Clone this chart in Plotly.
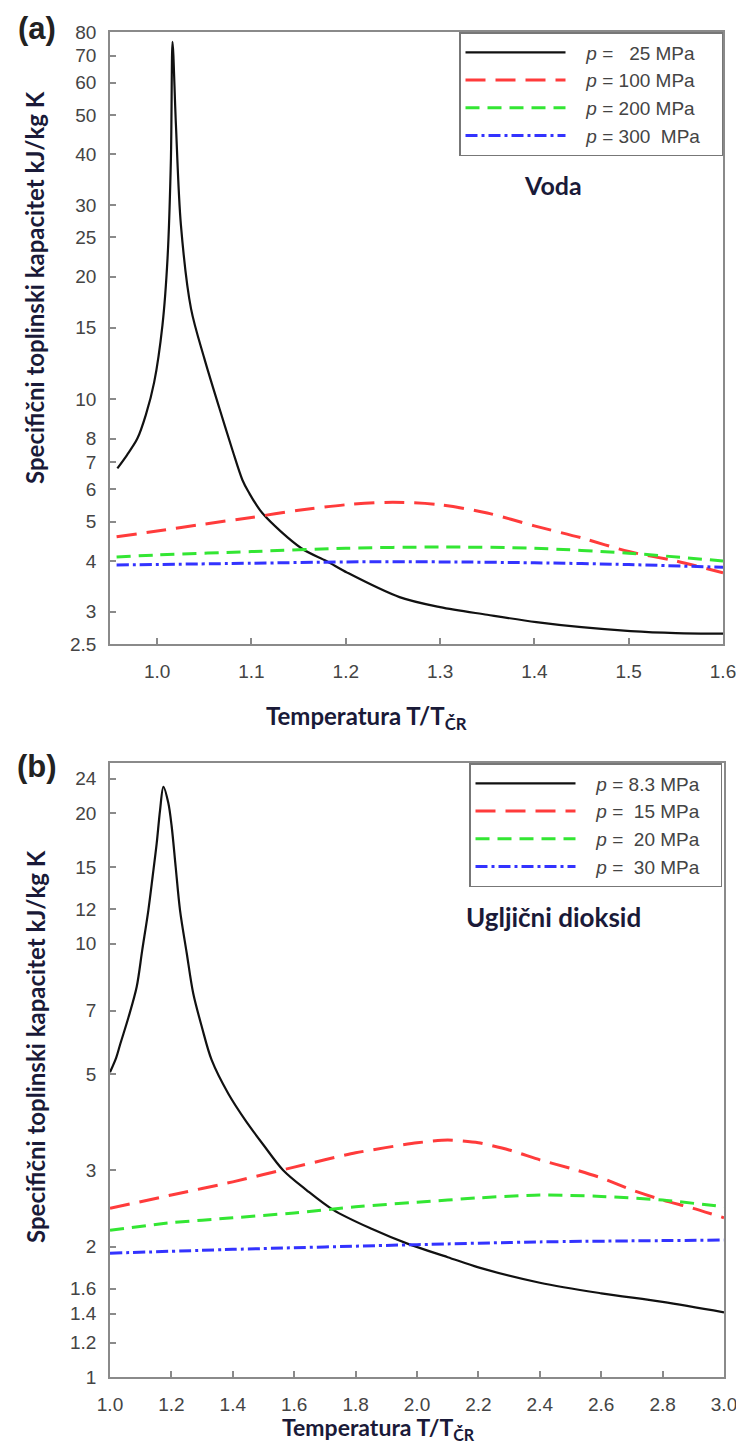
import plotly.graph_objects as go

# ---------------- data: (a) water ----------------
w25_x = [0.9578, 0.968, 0.979, 0.988, 0.9968, 1.0056, 1.011, 1.0146, 1.0163, 1.0199, 1.0252, 1.0359, 1.050, 1.066,
         1.0798, 1.0904, 1.0968, 1.1117, 1.1529, 1.1795, 1.202, 1.257, 1.30, 1.35, 1.402, 1.45, 1.502, 1.55, 1.601]
w25_y = [6.76, 7.29, 8.0, 9.15, 11.0, 15.2, 22.2, 39.1, 75.7, 47.3, 26.8, 16.7, 12.6, 9.5,
         7.5, 6.33, 5.92, 5.24, 4.3, 4.0, 3.74, 3.26, 3.08, 2.95, 2.83, 2.75, 2.69, 2.66, 2.65]
w100_x = [0.957, 1.0, 1.05, 1.1, 1.15, 1.2, 1.25, 1.3, 1.35, 1.4, 1.45, 1.5, 1.55, 1.6]
w100_y = [4.59, 4.74, 4.93, 5.12, 5.33, 5.5, 5.58, 5.5, 5.25, 4.88, 4.56, 4.22, 4.0, 3.74]
w200_x = [0.957, 1.0, 1.1, 1.2, 1.3, 1.4, 1.5, 1.6]
w200_y = [4.09, 4.14, 4.22, 4.30, 4.33, 4.30, 4.18, 4.0]
w300_x = [0.957, 1.1, 1.2, 1.3, 1.4, 1.5, 1.6]
w300_y = [3.91, 3.95, 3.98, 3.98, 3.96, 3.92, 3.86]

# ---------------- data: (b) carbon dioxide ----------------
c83_x = [1.0, 1.02, 1.033, 1.06, 1.087, 1.105, 1.125, 1.139, 1.152, 1.163, 1.174, 1.19, 1.201, 1.214, 1.228,
         1.25, 1.271, 1.299, 1.331, 1.385, 1.44, 1.5, 1.564, 1.64, 1.727, 1.85, 1.977, 2.1, 2.2, 2.4, 2.6, 2.8, 3.0]
c83_y = [5.05, 5.45, 5.85, 6.75, 7.95, 9.66, 11.95, 14.3, 17.0, 20.3, 23.0, 21.1, 18.6, 15.0, 11.95,
         9.5, 7.68, 6.43, 5.39, 4.51, 3.92, 3.43, 3.0, 2.7, 2.43, 2.2, 2.02, 1.89, 1.79, 1.65, 1.56, 1.49, 1.41]
c15_x = [1.0, 1.2, 1.4, 1.6, 1.8, 2.0, 2.1, 2.2, 2.3, 2.4, 2.5, 2.6, 2.7, 2.8, 2.9, 3.0]
c15_y = [2.45, 2.63, 2.82, 3.05, 3.29, 3.47, 3.52, 3.47, 3.34, 3.17, 3.03, 2.88, 2.70, 2.56, 2.45, 2.33]
c20_x = [1.0, 1.2, 1.4, 1.6, 1.8, 2.0, 2.2, 2.4, 2.6, 2.8, 3.0]
c20_y = [2.18, 2.27, 2.33, 2.39, 2.47, 2.53, 2.59, 2.63, 2.61, 2.56, 2.47]
c30_x = [1.0, 1.4, 2.0, 2.4, 3.0]
c30_y = [1.93, 1.97, 2.02, 2.05, 2.07]

NB = "\u00a0"
water_names = [f"{NB*3}<i>p</i> ={NB*3}25 MPa{NB*3}", f"{NB*3}<i>p</i> = 100 MPa{NB*3}",
               f"{NB*3}<i>p</i> = 200 MPa{NB*3}", f"{NB*3}<i>p</i> = 300{NB*2}MPa{NB*3}"]
co2_names = [f"{NB*3}<i>p</i> = 8.3 MPa{NB*3}", f"{NB*3}<i>p</i> ={NB*2}15 MPa{NB*3}",
             f"{NB*3}<i>p</i> ={NB*2}20 MPa{NB*3}", f"{NB*3}<i>p</i> ={NB*2}30 MPa{NB*3}"]

top_yticks = [2.5, 3, 4, 5, 6, 7, 8, 10, 15, 20, 25, 30, 40, 50, 60, 70, 80]
bot_yticks = [1, 1.2, 1.4, 1.6, 2, 3, 5, 7, 10, 12, 15, 20, 24]

W, H = 744, 1447
OFF = 8  # page body margin offset
BLACK, RED, GREEN, BLUE = "#111111", "#ff3b3b", "#33e633", "#3333ff"
styles = [
    dict(color=BLACK, width=2.2, dash="solid"),
    dict(color=RED, width=3, dash="20px,10px"),
    dict(color=GREEN, width=3, dash="14px,8px"),
    dict(color=BLUE, width=3, dash="12px,4px,3px,4px"),
]

fig = go.Figure()
water = [(w25_x, w25_y), (w100_x, w100_y), (w200_x, w200_y), (w300_x, w300_y)]
co2 = [(c83_x, c83_y), (c15_x, c15_y), (c20_x, c20_y), (c30_x, c30_y)]
for i, (xs, ys) in enumerate(water):
    fig.add_trace(go.Scatter(x=xs, y=ys, mode="lines", name=water_names[i], line=styles[i],
                             line_shape="spline", line_smoothing=0.9 if i == 0 else 0.8,
                             xaxis="x", yaxis="y", legend="legend", legendgroup=f"w{i}"))
for i, (xs, ys) in enumerate(co2):
    fig.add_trace(go.Scatter(x=xs, y=ys, mode="lines", name=co2_names[i], line=styles[i],
                             line_shape="spline", line_smoothing=0.9 if i == 0 else 0.6,
                             xaxis="x2", yaxis="y2", legend="legend2", legendgroup=f"c{i}"))

def px(x):
    return (x - OFF) / W

def py(y):
    return 1 - (y - OFF) / H

tickfont = dict(family="Liberation Sans, Arial", size=19, color="#444444")
axis_common = dict(showline=True, linecolor="#8a8a8a", linewidth=1.5, mirror=True, ticks="inside",
                   ticklen=6, tickcolor="#8a8a8a", tickwidth=1.5, showgrid=False, zeroline=False,
                   tickfont=tickfont, automargin=False)

legend_common = dict(bgcolor="white", bordercolor="#777777", borderwidth=1.5,
                     font=dict(family="Liberation Sans, Arial", size=19, color="#444444"),
                     xanchor="right", yanchor="top", tracegroupgap=0, itemwidth=100)

fig.update_layout(
    width=W, height=H, margin=dict(l=0, r=0, t=0, b=0, pad=0, autoexpand=False),
    paper_bgcolor="white", plot_bgcolor="white", showlegend=True,
    xaxis=dict(domain=[px(110), px(723)], range=[0.95, 1.6], tick0=1.0, dtick=0.1, tickformat=".1f",
               anchor="y", ticklabelstandoff=9, **axis_common),
    yaxis=dict(domain=[py(644), py(32)], type="log", range=[0.39794, 1.90309], tickvals=top_yticks,
               ticktext=[str(v) for v in top_yticks], anchor="x", ticklabelstandoff=8, **axis_common),
    xaxis2=dict(domain=[px(110), px(724)], range=[1.0, 3.0], tick0=1.0, dtick=0.2, tickformat=".1f",
                anchor="y2", ticklabelstandoff=9, **axis_common),
    yaxis2=dict(domain=[py(1377), py(763)], type="log", range=[0, 1.4166], tickvals=bot_yticks,
                ticktext=[str(v) for v in bot_yticks], anchor="x2", ticklabelstandoff=8, **axis_common),
    legend=dict(x=px(723), y=py(32), **legend_common),
    legend2=dict(x=px(722), y=py(763), **legend_common),
)

ylabel = "<b>Specifični toplinski kapacitet kJ/kg K</b>"
xlabel = "<b>Temperatura T/T<sub>ČR</sub></b>"
annots = [
    dict(text=ylabel, x=px(35), y=py(288), textangle=-90, size=24),
    dict(text=ylabel, x=px(35), y=py(1047), textangle=-90, size=24),
    dict(text=xlabel, x=px(366), y=py(717), size=24),
    dict(text=xlabel, x=px(378), y=py(1428), size=23),
    dict(text="<b>Voda</b>", x=px(553), y=py(185), size=25),
    dict(text="<b>Ugljični dioksid</b>", x=px(553), y=py(917), size=26),
]
for a in annots:
    size = a.pop("size")
    fig.add_annotation(xref="paper", yref="paper", showarrow=False,
                       font=dict(family="Lato, Open Sans", size=size, color="#1a1a38"),
                       xanchor="center", yanchor="middle", **a)
for lab, yy in [("(a)", 28), ("(b)", 767)]:
    fig.add_annotation(text=f"<b>{lab}</b>", xref="paper", yref="paper", x=px(37), y=py(yy),
                       showarrow=False, xanchor="center", yanchor="middle",
                       font=dict(family="Liberation Sans, Arial", size=31, color="#222222"))

fig.write_html("out.html")
